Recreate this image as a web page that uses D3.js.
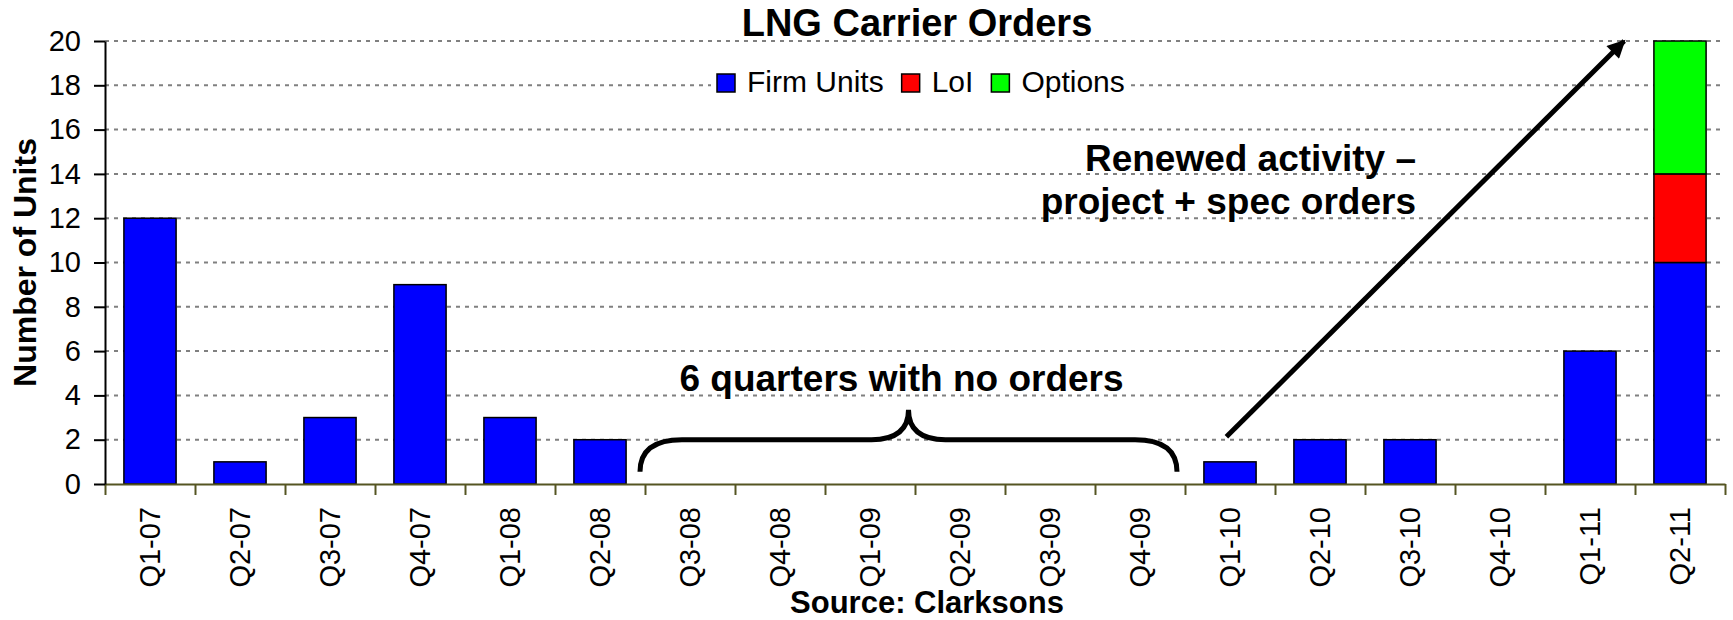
<!DOCTYPE html>
<html>
<head>
<meta charset="utf-8">
<script src="https://cdn.jsdelivr.net/npm/d3@7"></script>
<style>
  body { margin: 0; background: #fff; }
  svg text { font-family: "Liberation Sans", Arial, sans-serif; fill: #000; }
</style>
</head>
<body>
<script>
const quarters = ["Q1-07", "Q2-07", "Q3-07", "Q4-07", "Q1-08", "Q2-08", "Q3-08", "Q4-08", "Q1-09",
  "Q2-09", "Q3-09", "Q4-09", "Q1-10", "Q2-10", "Q3-10", "Q4-10", "Q1-11", "Q2-11"];
const firmUnits = [12, 1, 3, 9, 3, 2, 0, 0, 0, 0, 0, 0, 1, 2, 2, 0, 6, 10];
const loi =       [0, 0, 0, 0, 0, 0, 0, 0, 0, 0, 0, 0, 0, 0, 0, 0, 0, 4];
const options =   [0, 0, 0, 0, 0, 0, 0, 0, 0, 0, 0, 0, 0, 0, 0, 0, 0, 6];
const seriesNames = ["Firm Units", "LoI", "Options"];
const seriesColors = ["#0000ff", "#ff0000", "#00ff00"];
const yTicks = [0, 2, 4, 6, 8, 10, 12, 14, 16, 18, 20];

const W = 1733, H = 620;
const plotLeft = 105, plotRight = 1725, plotTop = 41, plotBottom = 484;

const rows = quarters.map((q, i) => ({ q: q, "Firm Units": firmUnits[i], "LoI": loi[i], "Options": options[i] }));
const stacked = d3.stack().keys(seriesNames)(rows);

const x = d3.scaleBand()
  .domain(quarters)
  .range([plotLeft, plotRight])
  .paddingInner(0.42)
  .paddingOuter(0.21);

// edges of the categories, for the x ticks and the annotations
const xb = d3.scaleLinear().domain([0, quarters.length]).range([plotLeft, plotRight]);

const y = d3.scaleLinear().domain([0, 20]).range([plotBottom, plotTop]);

const color = d3.scaleOrdinal().domain(seriesNames).range(seriesColors);

const svg = d3.select("body").append("svg")
  .attr("width", W)
  .attr("height", H);

// dashed grid
svg.append("g")
  .selectAll("line")
  .data(yTicks.filter(d => d > 0))
  .join("line")
    .attr("x1", plotLeft)
    .attr("x2", plotRight)
    .attr("y1", d => y(d))
    .attr("y2", d => y(d))
    .attr("stroke", "#808080")
    .attr("stroke-width", 2)
    .attr("stroke-dasharray", "4,5");

// bars
svg.append("g")
  .selectAll("g")
  .data(stacked)
  .join("g")
    .attr("fill", d => color(d.key))
  .selectAll("rect")
  .data(d => d.filter(s => s[1] - s[0] > 0))
  .join("rect")
    .attr("x", d => x(d.data.q))
    .attr("width", x.bandwidth())
    .attr("y", d => y(d[1]))
    .attr("height", d => y(d[0]) - y(d[1]))
    .attr("stroke", "#000")
    .attr("stroke-width", 1.5);

// x axis: ticks on the category edges
const xAxis = svg.append("g")
  .attr("transform", `translate(0,${plotBottom})`)
  .call(d3.axisBottom(xb).tickValues(d3.range(0, quarters.length + 1)).tickFormat("").tickSize(11).tickSizeOuter(0));
xAxis.select(".domain").attr("stroke", "#555522").attr("stroke-width", 2);
xAxis.selectAll(".tick line").attr("stroke", "#555522").attr("stroke-width", 2);

svg.append("g")
  .selectAll("text")
  .data(quarters)
  .join("text")
    .attr("transform", d => `translate(${x(d) + x.bandwidth() / 2},507) rotate(-90)`)
    .attr("dy", "0.35em")
    .attr("text-anchor", "end")
    .style("font-size", "29px")
    .text(d => d);

// y axis
const yAxis = svg.append("g")
  .attr("transform", `translate(${plotLeft},0)`)
  .call(d3.axisLeft(y).tickValues(yTicks).tickSize(11).tickSizeOuter(0).tickPadding(13));
yAxis.select(".domain").attr("stroke", "#000").attr("stroke-width", 2);
yAxis.selectAll(".tick line").attr("stroke", "#000").attr("stroke-width", 2);
yAxis.selectAll(".tick text")
  .style("font-size", "29px")
  .style("font-family", "'Liberation Sans', Arial, sans-serif");

svg.append("text")
  .attr("transform", `translate(25,${(plotTop + plotBottom) / 2}) rotate(-90)`)
  .attr("dy", "0.35em")
  .attr("text-anchor", "middle")
  .style("font-size", "32px")
  .style("font-weight", "bold")
  .text("Number of Units");

// title
svg.append("text")
  .attr("x", 917)
  .attr("y", 36)
  .attr("text-anchor", "middle")
  .style("font-size", "38px")
  .style("font-weight", "bold")
  .text("LNG Carrier Orders");

// legend, on a white box that hides the grid
const legend = svg.append("g").attr("transform", "translate(717,0)");
const legendBg = legend.append("rect")
  .attr("x", -6)
  .attr("y", 66)
  .attr("height", 34)
  .attr("fill", "#fff");
let lx = 0;
seriesNames.forEach((name, i) => {
  legend.append("rect")
    .attr("x", lx)
    .attr("y", 74)
    .attr("width", 18)
    .attr("height", 18)
    .attr("fill", seriesColors[i])
    .attr("stroke", "#000")
    .attr("stroke-width", 1.5);
  const t = legend.append("text")
    .attr("x", lx + 30)
    .attr("y", 92)
    .style("font-size", "30px")
    .text(name);
  lx += 30 + t.node().getComputedTextLength() + 18;
});
legendBg.attr("width", lx - 18 + 12);

// source
svg.append("text")
  .attr("x", 927)
  .attr("y", 613)
  .attr("text-anchor", "middle")
  .style("font-size", "31px")
  .style("font-weight", "bold")
  .text("Source: Clarksons");

// brace over the empty quarters
const bl = xb(6) - 5, br = xb(12) - 8, bm = (bl + br) / 2;
const bEnd = y(0.55), bLine = y(2), bPeak = y(3.35);
const brace = d3.path();
brace.moveTo(bl, bEnd);
brace.quadraticCurveTo(bl, bLine, bl + 42, bLine);
brace.lineTo(bm - 37, bLine);
brace.quadraticCurveTo(bm, bLine, bm, bPeak);
brace.quadraticCurveTo(bm, bLine, bm + 37, bLine);
brace.lineTo(br - 42, bLine);
brace.quadraticCurveTo(br, bLine, br, bEnd);
svg.append("path")
  .attr("d", brace.toString())
  .attr("fill", "none")
  .attr("stroke", "#000")
  .attr("stroke-width", 5);

svg.append("text")
  .attr("x", bm - 7)
  .attr("y", 391)
  .attr("text-anchor", "middle")
  .style("font-size", "37px")
  .style("font-weight", "bold")
  .text("6 quarters with no orders");

// arrow to the latest quarter
svg.append("defs").append("marker")
  .attr("id", "head")
  .attr("viewBox", "0 0 10 10")
  .attr("refX", 9)
  .attr("refY", 5)
  .attr("markerWidth", 4.2)
  .attr("markerHeight", 3.6)
  .attr("orient", "auto")
  .append("path")
    .attr("d", "M0,0L10,5L0,10z")
    .attr("fill", "#000");

svg.append("line")
  .attr("x1", xb(12.46))
  .attr("y1", y(2.13))
  .attr("x2", xb(16.88))
  .attr("y2", y(20))
  .attr("stroke", "#000")
  .attr("stroke-width", 5)
  .attr("marker-end", "url(#head)");

const note = svg.append("text")
  .attr("text-anchor", "end")
  .style("font-size", "37px")
  .style("font-weight", "bold");
note.append("tspan").attr("x", 1416).attr("y", 171).text("Renewed activity –");
note.append("tspan").attr("x", 1416).attr("y", 214).text("project + spec orders");
</script>
</body>
</html>
